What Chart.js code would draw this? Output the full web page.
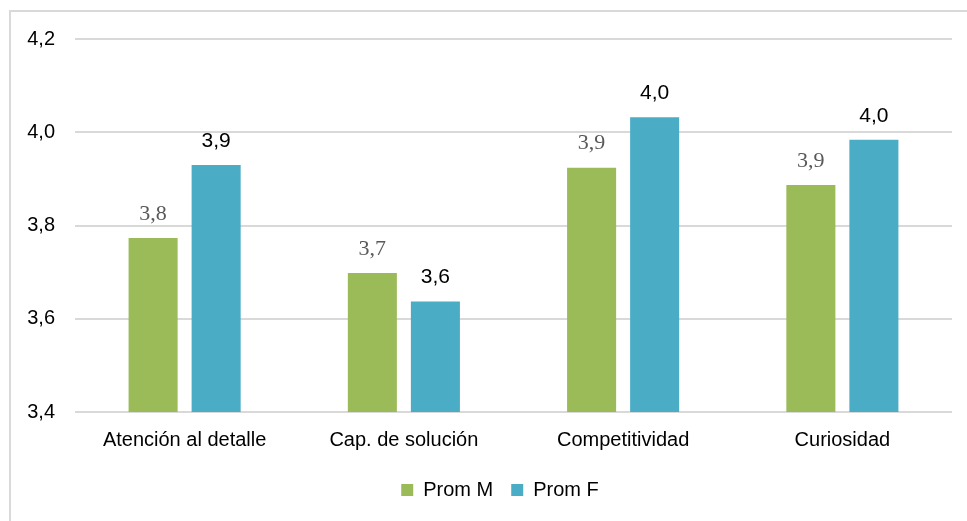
<!DOCTYPE html>
<html>
<head>
<meta charset="utf-8">
<script src="https://cdn.jsdelivr.net/npm/chart.js@4"></script>
<style>
  html, body { margin: 0; padding: 0; background: #fff; overflow: hidden; }
  #frame { position: absolute; left: 9px; top: 10px; width: 1000px; height: 600px; border: 2px solid #d9d9d9; box-sizing: border-box; }
  #wrap { position: absolute; left: 0; top: 0; width: 967px; height: 521px; }
</style>
</head>
<body>
<div id="frame"></div>
<div id="wrap"><canvas id="c" width="967" height="521"></canvas></div>
<script>
const categories = ["Atención al detalle", "Cap. de solución", "Competitividad", "Curiosidad"];
const promM = [3.773, 3.698, 3.924, 3.887];
const promF = [3.930, 3.637, 4.032, 3.984];
const seriesNames = ["Prom M", "Prom F"];
const yTicks = [3.4, 3.6, 3.8, 4.0, 4.2];

const fmt = v => v.toFixed(1).replace('.', ',');

const labelPlugin = {
  id: 'valueLabels',
  afterDatasetsDraw(chart) {
    const ctx = chart.ctx;
    chart.data.datasets.forEach((ds, di) => {
      const meta = chart.getDatasetMeta(di);
      meta.data.forEach((bar, i) => {
        ctx.save();
        if (di === 0) {
          ctx.font = '22px "Liberation Serif", "Times New Roman", serif';
          ctx.fillStyle = '#595959';
        } else {
          ctx.font = '21px "Liberation Sans", Arial, sans-serif';
          ctx.fillStyle = '#000000';
        }
        ctx.textAlign = 'center';
        ctx.textBaseline = 'middle';
        ctx.fillText(fmt(ds.data[i]), bar.x, bar.y - 24);
        ctx.restore();
      });
    });
  }
};

const legendShift = {
  id: 'legendShift',
  afterLayout(chart) {
    if (chart.legend) { chart.legend.left += 24; chart.legend.right += 24; }
  }
};

new Chart(document.getElementById('c'), {
  type: 'bar',
  data: {
    labels: categories,
    datasets: [
      { label: seriesNames[0], data: promM, backgroundColor: '#9BBB59', borderWidth: 0 },
      { label: seriesNames[1], data: promF, backgroundColor: '#4BACC6', borderWidth: 0 }
    ]
  },
  options: {
    responsive: false,
    animation: false,
    devicePixelRatio: 1,
    layout: { padding: { left: 0, right: 15, top: 39, bottom: 11 } },
    datasets: { bar: { categoryPercentage: 0.575, barPercentage: 0.778 } },
    scales: {
      x: {
        grid: { display: false, drawTicks: false },
        border: { display: false },
        afterFit: s => { s.height -= 6; },
        ticks: { color: '#000', font: { family: '"Liberation Sans", Arial, sans-serif', size: 20 }, padding: 16 }
      },
      y: {
        min: 3.4, max: 4.2,
        afterBuildTicks: s => { s.ticks = yTicks.map(v => ({ value: v })); },
        afterFit: s => { s.width = 75; },
        grid: { color: '#d9d9d9', lineWidth: 2, drawTicks: false },
        border: { display: false },
        ticks: { color: '#000', padding: 20, font: { family: '"Liberation Sans", Arial, sans-serif', size: 20 }, callback: v => fmt(v) }
      }
    },
    plugins: {
      legend: {
        position: 'bottom',
        labels: { boxWidth: 12, boxHeight: 12, padding: 18, color: '#000', font: { family: '"Liberation Sans", Arial, sans-serif', size: 20 } }
      },
      tooltip: { enabled: false }
    }
  },
  plugins: [labelPlugin, legendShift]
});
</script>
</body>
</html>
